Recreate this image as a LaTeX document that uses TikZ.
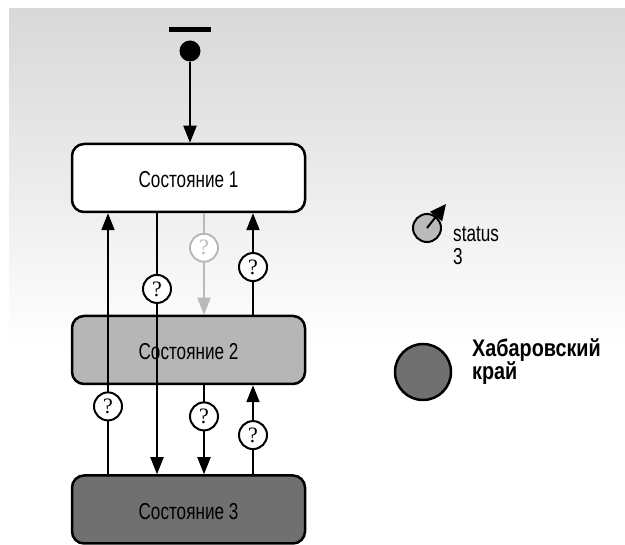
\documentclass[tikz,border=0pt]{standalone}
\usepackage{fontspec}
\setmainfont{Liberation Sans}[FakeStretch=0.745, BoldFeatures={FakeStretch=0.825}]
\newfontfamily\qfont{Liberation Serif}
\usetikzlibrary{arrows.meta,calc}

\definecolor{bgtop}{RGB}{216,216,216}
\definecolor{stlight}{RGB}{182,182,182}
\definecolor{stdark}{RGB}{112,112,112}
\definecolor{faded}{RGB}{185,185,185}
\definecolor{legfill}{RGB}{186,186,186}

\tikzset{
  state/.style={draw, line width=2.5pt, rounded corners=12pt,
    minimum width=233pt, minimum height=68pt, inner sep=0pt,
    font=\fontsize{23}{25}\selectfont, text height=20pt, text depth=0pt},
  flow/.style={line width=2pt, -{Triangle[length=17pt,width=13pt]}},
  qmark/.style={circle, draw, fill=white, line width=2pt, minimum size=28pt,
    inner sep=0pt, font=\qfont\fontsize{22}{22}\selectfont},
  legendtext/.style={anchor=west, inner sep=0pt, align=left},
}

\begin{document}
\begin{tikzpicture}[x=1pt,y=-1pt]
  \useasboundingbox (0,0) rectangle (625,545);
  \fill[white] (0,0) rectangle (625,545);
  \shade[top color=bgtop, bottom color=white] (9,9) rectangle (625,350);

  % states
  \node[state, fill=white]   (s1) at (188.5,178) {Состояние 1};
  \node[state, fill=stlight] (s2) at (188.5,350) {Состояние 2};
  \node[state, fill=stdark]  (s3) at (188.5,509.5) {Состояние 3};

  % initial pseudo-state
  \node[fill=black, minimum width=42pt, minimum height=5pt, inner sep=0pt] (bar) at (190,29.5) {};
  \node[circle, fill=black, minimum size=21pt, inner sep=0pt] (init) at (190,51) {};
  \draw[flow] (init) -- (s1.north -| init);

  % transition columns
  \coordinate (c1) at (108,0);
  \coordinate (c2) at (157,0);
  \coordinate (c3) at (204,0);
  \coordinate (c4) at (253,0);

  \draw[flow] (s3.north -| c1) -- node[qmark, pos=0.26] (q1) {?} (s1.south -| c1);
  \draw[flow] (s1.south -| c2) -- node[qmark, pos=0.29] (q2) {?} (s3.north -| c2);
  \draw[flow, faded] (s1.south -| c3) -- node[qmark, draw=faded, text=faded, pos=0.34] (q3) {?} (s2.north -| c3);
  \draw[flow] (s2.north -| c4) -- node[qmark, pos=0.47] (q4) {?} (s1.south -| c4);
  \draw[flow] (s2.south -| c3) -- node[qmark, pos=0.35] (q5) {?} (s3.north -| c3);
  \draw[flow] (s3.north -| c4) -- node[qmark, pos=0.44] (q6) {?} (s2.south -| c4);

  % legend
  \node[circle, draw, line width=2pt, fill=legfill, minimum size=28pt, inner sep=0pt] (leg1) at (427,228) {};
  \coordinate (leg1tip) at (446,204);
  \draw[line width=2pt, -{Triangle[length=16pt,width=15pt]}] (leg1.center) -- (leg1tip);
  \node[legendtext, font=\fontsize{23}{23}\selectfont] (leg1text) at (453,245.5) {status\\3};

  \node[circle, draw, line width=2.5pt, fill=stdark, minimum size=56pt, inner sep=0pt] (leg2) at (423,372) {};
  \node[legendtext, font=\bfseries\fontsize{24}{21.5}\selectfont] (leg2text) at (472,361.5) {Хабаровский\\край};
\end{tikzpicture}
\end{document}
